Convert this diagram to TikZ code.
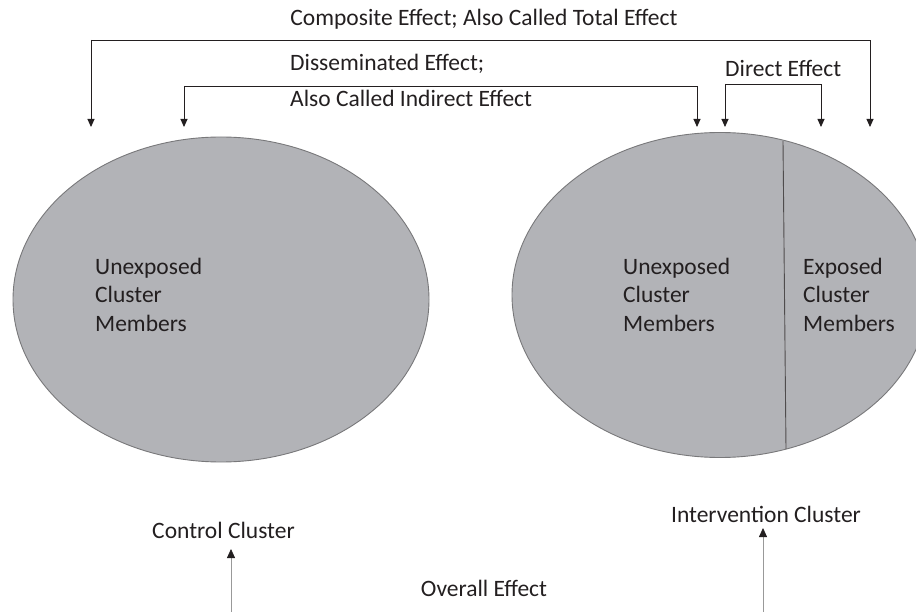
\documentclass[tikz,border=0pt]{standalone}
\usepackage{fontspec}
\setmainfont{Carlito}
\usetikzlibrary{shapes.geometric,arrows.meta}
\definecolor{clusterfill}{RGB}{178,179,183}
\definecolor{clusteredge}{RGB}{120,120,122}
\definecolor{ink}{RGB}{35,31,32}
\tikzset{
  cluster/.style={ellipse, fill=clusterfill, draw=clusteredge, line width=0.9pt,
    minimum width=416pt, minimum height=325pt, inner sep=0pt},
  lbl/.style={font=\fontsize{23.5}{29}\selectfont, text=ink, inner sep=0pt},
  blk/.style={lbl, align=left, anchor=base west},
  conn/.style={draw=ink, line width=0.9pt, -{Triangle[length=8pt,width=7pt]}},
  upconn/.style={draw=gray!80, line width=0.8pt, -{Triangle[length=9pt,width=8pt,color=ink]}},
}
\begin{document}
\begin{tikzpicture}[x=1pt,y=-1pt]
\useasboundingbox (0,0) rectangle (916,612);
\clip (0,0) rectangle (916,612);

% the two clusters
\node[cluster] (ctrl) at (221,299.5) {};
\node[cluster] (intv) at (720,295) {};
\draw[draw=ink!80, line width=0.9pt] (783,141) coordinate (divtop) -- (786,449) coordinate (divbot);

% texts inside the clusters (anchored at the baseline of the last line)
\node[blk] (ctrlU) at (95,332) {Unexposed\\Cluster\\Members};
\node[blk] (intvU) at (623,332) {Unexposed\\Cluster\\Members};
\node[blk] (intvE) at (803,332) {Exposed\\Cluster\\Members};

% effect labels
\node[lbl, anchor=base] (composite) at (484,26) {Composite Effect; Also Called Total Effect};
\node[lbl, anchor=base west] (dissem) at (290,71) {Disseminated Effect;};
\node[lbl, anchor=base west] (dissem2) at (290,107) {Also Called Indirect Effect};
\node[lbl, anchor=base west] (direct) at (725,77) {Direct Effect};

% arrow targets above the clusters
\coordinate (cL) at (91,127);
\coordinate (cR) at (870,127);
\coordinate (dL) at (184,127);
\coordinate (dR) at (697,127);
\coordinate (eL) at (725,127);
\coordinate (eR) at (821,127);

% bracket connectors
\draw[conn] (cL |- 0,40) coordinate (cLtop) -- (cL);
\draw[conn] (cLtop) -- (cR |- 0,40) -- (cR);
\draw[conn] (dL |- 0,86) coordinate (dLtop) -- (dL);
\draw[conn] (dLtop) -- (dR |- 0,86) -- (dR);
\draw[conn] (eL |- 0,84) coordinate (eLtop) -- (eL);
\draw[conn] (eLtop) -- (eR |- 0,84) -- (eR);

% cluster names and overall effect
\node[lbl, anchor=base] (ctrlname) at (223.5,538) {Control Cluster};
\node[lbl, anchor=base] (intvname) at (766,522) {Intervention Cluster};
\node[lbl, anchor=base] (overall) at (484,596) {Overall Effect};
\coordinate (ctrlfoot) at (231,611.8);
\coordinate (intvfoot) at (763,611.8);
\draw[gray!10, line width=0.6pt] (ctrlfoot) -- (intvfoot);
\draw[upconn] (ctrlfoot) -- (231,549);
\draw[upconn] (intvfoot) -- (763,528);
\end{tikzpicture}
\end{document}
